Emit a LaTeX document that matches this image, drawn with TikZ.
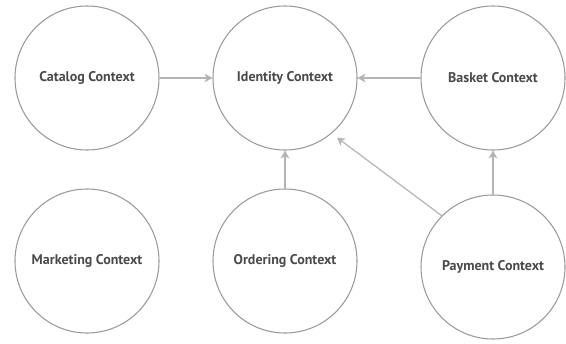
\documentclass[tikz,border=0pt]{standalone}
\usepackage{fontspec}
\setmainfont{PT Sans}
\usetikzlibrary{arrows.meta}

\definecolor{ringgray}{HTML}{9A9A9A}
\definecolor{linkgray}{HTML}{B4B4B4}
\definecolor{textgray}{HTML}{4A4A4A}

\begin{document}
\begin{tikzpicture}[
        x=0.75pt, y=0.75pt,
        ctx/.style={draw=ringgray, circle, line width=0.8pt, inner sep=0pt, minimum size=108pt, align=center, text=textgray, font=\fontsize{10.5}{12}\selectfont\bfseries},
        link/.style={-{Stealth[length=6pt, width=6.5pt, inset=1.8pt]}, draw=linkgray, fill=linkgray, line width=0.9pt}
    ]
        \useasboundingbox (0,0) rectangle (566,343);

        % Nodes
        \node[ctx] (catalog) at (87, 265) {Catalog Context};
        \node[ctx] (identity) at (285, 265) {Identity Context};
        \node[ctx] (basket) at (493, 265) {Basket Context};
        \node[ctx] (marketing) at (87, 82) {Marketing Context};
        \node[ctx] (ordering) at (285, 82) {Ordering Context};
        \node[ctx] (payment) at (493, 76) {Payment Context};

        % Links into Identity
        \draw[link] (catalog.east) -- (identity.west);
        \draw[link] (basket.west) -- (identity.east);
        \draw[link] (ordering.north) -- (identity.south);

        % Links out of Payment
        \draw[link] (payment.north) -- (basket.south);
        \draw[link, shorten >=5pt] (payment.135) -- (identity.-50);

    \end{tikzpicture}
\end{document}
